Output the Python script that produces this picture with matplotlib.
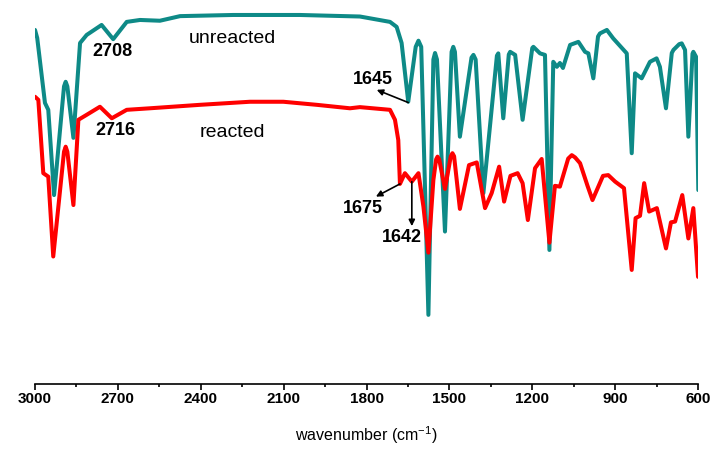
import matplotlib.pyplot as plt
from matplotlib.ticker import MultipleLocator

plt.rcParams['font.family'] = ['Liberation Sans', 'DejaVu Sans']
plt.rcParams['mathtext.fontset'] = 'custom'
plt.rcParams['mathtext.rm'] = 'Liberation Sans'

# unreacted spectrum (wavenumber cm-1, transmittance a.u.)
wn_unreacted = [3000, 2992, 2964, 2952, 2931, 2895, 2889, 2883, 2861, 2837, 2813, 2759,
                2717, 2668, 2620, 2548, 2475, 2283, 2041, 1824, 1715, 1691,
                1673, 1649, 1622, 1612, 1602, 1576, 1558, 1552, 1545, 1516, 1492, 1486,
                1480, 1462, 1420, 1413, 1405, 1377,
                1328, 1323, 1305, 1285, 1280, 1262, 1235, 1200, 1196, 1172, 1154, 1138, 1124,
                1111, 1100, 1089, 1063, 1033, 1009, 997, 979, 962, 955, 930,
                907, 858, 840, 828, 804, 774, 750, 738, 716, 695, 689,
                668, 659, 647, 635, 620, 617, 607, 599]
t_unreacted = [92.2, 90.1, 73.2, 71.4, 49.2, 77.5, 78.7, 77.5, 64.1, 88.8, 90.9, 93.5,
               89.8, 94.3, 94.8, 94.6, 95.8, 96.1, 96.1, 95.7, 94.3, 93.0,
               88.8, 73.5, 87.8, 89.4, 87.8, 18.0, 84.5, 86.2, 84.5, 39.7, 86.5, 87.8,
               86.5, 64.4, 85.0, 85.7, 84.5, 49.7,
               85.5, 86.1, 69.2, 85.8, 86.5, 85.7, 68.8, 87.5, 87.8, 86.1, 85.7, 34.9, 83.9,
               82.6, 83.6, 82.3, 88.3, 89.1, 86.5, 86.1, 79.6, 90.5, 91.3, 92.2,
               90.0, 86.1, 60.1, 80.9, 79.6, 83.9, 84.8, 82.6, 71.8, 86.2, 87.0,
               88.5, 88.7, 87.0, 64.4, 86.0, 86.5, 85.2, 50.5]

# reacted spectrum
wn_reacted = [3000, 2988, 2970, 2952, 2934, 2895, 2889, 2883, 2861, 2843, 2813, 2765,
              2722, 2668, 2584, 2403, 2222, 2101, 1980, 1860, 1824, 1715,
              1697, 1685, 1679, 1661, 1636, 1612, 1594, 1576, 1558, 1548, 1543, 1537,
              1516, 1495, 1489, 1483, 1462, 1429, 1401, 1371, 1347, 1320, 1302, 1279,
              1253, 1235, 1216, 1190, 1166, 1138, 1118, 1100, 1070, 1057, 1045, 1027,
              1000, 982, 944, 925, 900, 868, 840, 826, 810, 795,
              777, 749, 716, 698, 683, 657, 635, 617, 600]
t_reacted = [74.8, 74.0, 54.9, 54.0, 33.2, 60.5, 61.8, 60.5, 46.6, 68.8, 70.1, 72.2,
             69.2, 71.4, 71.8, 72.7, 73.5, 73.5, 72.7, 71.8, 72.1, 71.4,
             68.8, 63.5, 52.1, 54.9, 52.7, 54.9, 46.2, 34.2, 53.1, 58.5, 59.2, 58.5,
             50.8, 59.3, 60.1, 59.3, 45.6, 57.0, 57.7, 45.8, 49.7, 56.6, 47.5, 54.2,
             54.9, 52.3, 42.7, 56.2, 58.6, 36.8, 51.6, 51.4, 58.7, 59.6, 59.0, 57.5,
             51.6, 47.9, 54.2, 54.4, 52.7, 51.0, 29.7, 43.2, 43.8, 52.3,
             44.9, 45.8, 35.3, 42.1, 42.3, 49.2, 37.9, 45.8, 27.9]

fig = plt.figure(figsize=(7.16, 4.5), dpi=100)
ax = fig.add_axes([0.0489, 0.1467, 0.926, 0.8533])

ax.plot(wn_unreacted, t_unreacted, color='#0E8A87', lw=2.9,
        solid_joinstyle='round', solid_capstyle='round')
ax.plot(wn_reacted, t_reacted, color='#FF0000', lw=2.9,
        solid_joinstyle='round', solid_capstyle='round')

ax.set_xlim(3000, 600)
ax.set_ylim(0, 100)
ax.xaxis.set_major_locator(MultipleLocator(300))
ax.xaxis.set_minor_locator(MultipleLocator(150))
ax.tick_params(axis='x', which='major', direction='out', length=4, width=1.2,
               pad=2, labelsize=11)
ax.tick_params(axis='x', which='minor', direction='out', length=2.5, width=1.2)
for lbl in ax.get_xticklabels():
    lbl.set_fontweight('bold')
ax.set_yticks([])
for side in ['left', 'right', 'top']:
    ax.spines[side].set_visible(False)
ax.spines['bottom'].set_linewidth(1.2)
ax.set_xlabel(r'wavenumber (cm$^{\mathregular{-1}}$)', fontsize=11.5, labelpad=13)

# labels
ax.text(2287, 90.1, 'unreacted', fontsize=14, ha='center', va='center')
ax.text(2287, 65.4, 'reacted', fontsize=14, ha='center', va='center')
ax.text(2718, 86.7, '2708', fontsize=13, fontweight='bold', ha='center', va='center')
ax.text(2710, 66.1, '2716', fontsize=13, fontweight='bold', ha='center', va='center')

arrow = dict(arrowstyle='-|>', color='black', lw=1.2, mutation_scale=9,
             shrinkA=0, shrinkB=0)
ax.text(1778, 79.2, '1645', fontsize=13, fontweight='bold', ha='center', va='center')
ax.annotate('', xy=(1763, 76.6), xytext=(1649, 73.3), arrowprops=arrow)
ax.text(1813, 45.8, '1675', fontsize=13, fontweight='bold', ha='center', va='center')
ax.annotate('', xy=(1766, 48.8), xytext=(1679, 52.1), arrowprops=arrow)
ax.text(1671, 38.2, '1642', fontsize=13, fontweight='bold', ha='center', va='center')
ax.annotate('', xy=(1636, 41.1), xytext=(1636, 52.7), arrowprops=arrow)

fig.savefig('out.png', dpi=100)
